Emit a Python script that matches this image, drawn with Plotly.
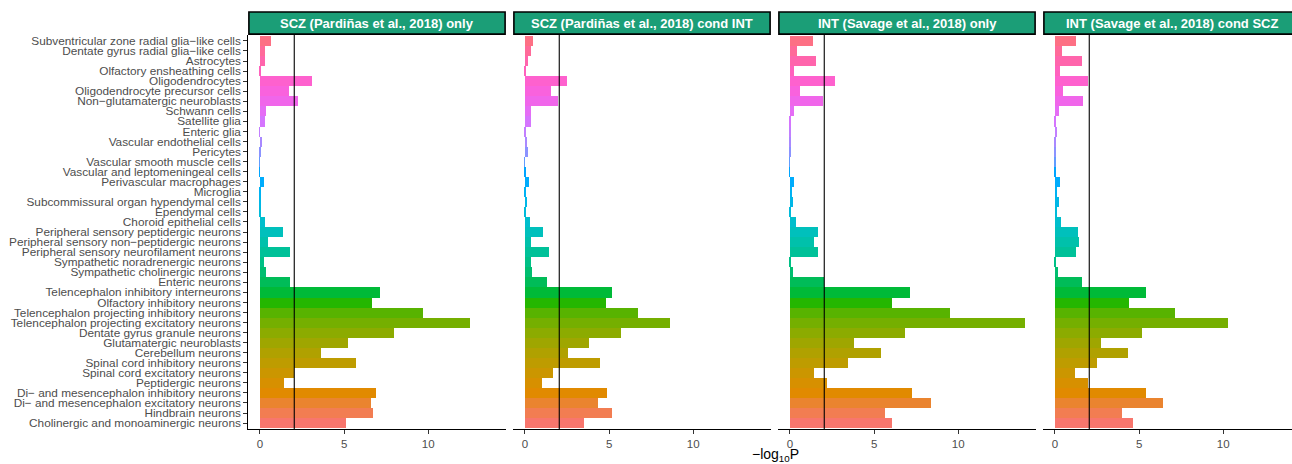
import math
import plotly.graph_objects as go

categories = [
    "Subventricular zone radial glia−like cells",
    "Dentate gyrus radial glia−like cells",
    "Astrocytes",
    "Olfactory ensheathing cells",
    "Oligodendrocytes",
    "Oligodendrocyte precursor cells",
    "Non−glutamatergic neuroblasts",
    "Schwann cells",
    "Satellite glia",
    "Enteric glia",
    "Vascular endothelial cells",
    "Pericytes",
    "Vascular smooth muscle cells",
    "Vascular and leptomeningeal cells",
    "Perivascular macrophages",
    "Microglia",
    "Subcommissural organ hypendymal cells",
    "Ependymal cells",
    "Choroid epithelial cells",
    "Peripheral sensory peptidergic neurons",
    "Peripheral sensory non−peptidergic neurons",
    "Peripheral sensory neurofilament neurons",
    "Sympathetic noradrenergic neurons",
    "Sympathetic cholinergic neurons",
    "Enteric neurons",
    "Telencephalon inhibitory interneurons",
    "Olfactory inhibitory neurons",
    "Telencephalon projecting inhibitory neurons",
    "Telencephalon projecting excitatory neurons",
    "Dentate gyrus granule neurons",
    "Glutamatergic neuroblasts",
    "Cerebellum neurons",
    "Spinal cord inhibitory neurons",
    "Spinal cord excitatory neurons",
    "Peptidergic neurons",
    "Di− and mesencephalon inhibitory neurons",
    "Di− and mesencephalon excitatory neurons",
    "Hindbrain neurons",
    "Cholinergic and monoaminergic neurons",
]

panel_titles = [
    "SCZ (Pardiñas et al., 2018) only",
    "SCZ (Pardiñas et al., 2018) cond INT",
    "INT (Savage et al., 2018) only",
    "INT (Savage et al., 2018) cond SCZ",
]

scz_only = [0.66, 0.30, 0.30, 0.06, 3.10, 1.73, 2.27, 0.36, 0.30, 0.02,
            0.12, 0.10, 0.02, 0.02, 0.24, 0.04, 0.06, 0.04, 0.30, 1.37,
            0.48, 1.79, 0.24, 0.36, 1.79, 7.16, 6.68, 9.72, 12.47, 7.99,
            5.25, 3.64, 5.73, 2.05, 1.43, 6.92, 6.62, 6.74, 5.13]
scz_cond_int = [0.50, 0.38, 0.20, 0.08, 2.52, 1.57, 1.98, 0.38, 0.38, 0.06,
                0.14, 0.20, 0.02, 0.04, 0.26, 0.06, 0.14, 0.04, 0.32, 1.10,
                0.38, 1.45, 0.38, 0.44, 1.33, 5.20, 4.84, 6.75, 8.65, 5.73,
                3.83, 2.58, 4.48, 1.69, 1.03, 4.90, 4.37, 5.20, 3.53]
int_only = [1.39, 0.44, 1.56, 0.26, 2.69, 0.61, 1.98, 0.26, 0.06, 0.06,
            0.06, 0.06, 0.02, 0.02, 0.26, 0.14, 0.20, 0.06, 0.38, 1.68,
            1.45, 1.68, 0.06, 0.20, 2.06, 7.15, 6.08, 9.52, 13.98, 6.85,
            3.82, 5.43, 3.47, 1.45, 2.22, 7.27, 8.40, 5.66, 6.08]
int_cond_scz = [1.25, 0.41, 1.60, 0.30, 1.96, 0.47, 1.66, 0.24, 0.06, 0.12,
                0.04, 0.04, 0.04, 0.04, 0.30, 0.12, 0.24, 0.12, 0.36, 1.36,
                1.42, 1.25, 0.04, 0.18, 1.60, 5.40, 4.39, 7.17, 10.32, 5.22,
                2.73, 4.33, 2.49, 1.19, 1.96, 5.45, 6.46, 4.03, 4.68]
panel_values = [scz_only, scz_cond_int, int_only, int_cond_scz]
threshold = 2.04
x_ticks = [0, 5, 10]


def hcl_to_hex(h, c, l):
    wu, wv = 0.1978398, 0.4683363
    hr = math.radians(h)
    U = c * math.cos(hr)
    V = c * math.sin(hr)
    Y = 100.0 * (((l + 16) / 116) ** 3 if l > 7.999592 else l / 903.3)
    u = U / (13 * l) + wu
    v = V / (13 * l) + wv
    X = 9.0 * Y * u / (4 * v)
    Z = -X / 3 - 5 * Y + 3 * Y / v
    X, Y, Z = X / 100, Y / 100, Z / 100

    def gam(t):
        t = 1.055 * t ** (1 / 2.4) - 0.055 if t > 0.00304 else 12.92 * t
        return max(0, min(255, round(255 * t)))
    r = gam(3.240479 * X - 1.537150 * Y - 0.498535 * Z)
    g = gam(-0.969256 * X + 1.875992 * Y + 0.041556 * Z)
    b = gam(0.055648 * X - 0.204043 * Y + 1.057311 * Z)
    return "#%02X%02X%02X" % (r, g, b)


n = len(categories)
hues = [15 + i * 360 / n for i in range(n)]
hue_cols = [hcl_to_hex(h, 100, 65) for h in hues]
bar_colors = [hue_cols[n - 1 - i] for i in range(n)]

W, H = 1292, 464
px = lambda x: x / W
py = lambda y: 1 - y / H

panel_left = [248.3 + 265 * k for k in range(4)]
panel_w = 257.4
units_per_px = (14.6 + 0.69) / panel_w
plot_top, plot_bot = 34, 430
strip_top, strip_bot = 11, 33.3
FONT = "Liberation Sans, Arial, Helvetica"

fig = go.Figure()
for k in range(4):
    xa = "x" if k == 0 else f"x{k + 1}"
    fig.add_trace(go.Bar(
        x=panel_values[k], y=categories, orientation="h",
        marker=dict(color=bar_colors, line=dict(width=0)),
        xaxis=xa, yaxis="y", showlegend=False, width=1.0,
    ))

shapes = []
annotations = []
for k in range(4):
    left = panel_left[k]
    right = min(left + panel_w, W)
    rmax = -0.69 + (right - left) * units_per_px
    key = "xaxis" if k == 0 else f"xaxis{k + 1}"
    fig.layout[key] = dict(
        domain=[px(left), px(right)], range=[-0.69, rmax], anchor="y",
        showgrid=False, zeroline=False, showline=True, linecolor="black",
        linewidth=1.1, ticks="outside", ticklen=4, tickcolor="#333333",
        tickwidth=1, tickvals=x_ticks, ticktext=[str(t) for t in x_ticks],
        tickfont=dict(family=FONT, size=11.5, color="#4D4D4D"),
    )
    xref = "x" if k == 0 else f"x{k + 1}"
    shapes.append(dict(type="line", xref=xref, yref="paper",
                       x0=threshold, x1=threshold, y0=py(plot_bot), y1=py(plot_top),
                       line=dict(color="black", width=1.1)))
    shapes.append(dict(type="rect", xref="paper", yref="paper",
                       x0=px(left + 0.6), x1=px(left + panel_w - 0.6),
                       y0=py(strip_bot), y1=py(strip_top),
                       fillcolor="#1B9E77", line=dict(color="black", width=1.6)))
    annotations.append(dict(text="<b>%s</b>" % panel_titles[k], xref="paper", yref="paper",
                            x=px(left + panel_w / 2), y=py((strip_top + strip_bot) / 2),
                            xanchor="center", yanchor="middle", showarrow=False,
                            font=dict(family=FONT, size=13, color="white")))

annotations.append(dict(text="−log<sub>10</sub>P", xref="paper", yref="paper",
                        x=px(775), y=py(445), xanchor="center", yanchor="top",
                        showarrow=False,
                        font=dict(family=FONT, size=14, color="black")))

fig.update_layout(
    width=W, height=H,
    margin=dict(l=0, r=0, t=0, b=0),
    paper_bgcolor="white", plot_bgcolor="white",
    bargap=0,
    yaxis=dict(
        domain=[py(plot_bot), py(plot_top)], anchor="x",
        categoryorder="array", categoryarray=categories,
        tickmode="array", tickvals=categories, ticktext=categories,
        range=[n - 1 + 0.6, -0.6],
        showgrid=False, zeroline=False, showline=True, linecolor="black",
        linewidth=1.1, ticks="outside", ticklen=4, tickcolor="#333333",
        tickfont=dict(family=FONT, size=11.8, color="#4D4D4D"),
    ),
    shapes=shapes, annotations=annotations,
)

fig.write_html("out.html")
